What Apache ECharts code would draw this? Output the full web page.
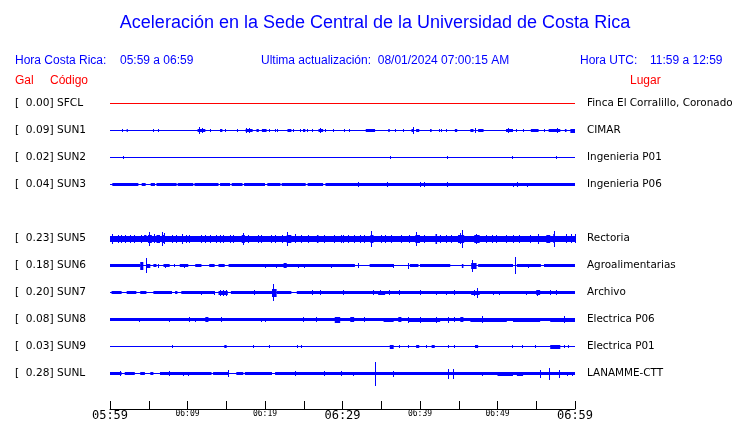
<!DOCTYPE html>
<html>
<head>
<meta charset="utf-8">
<script src="https://cdn.jsdelivr.net/npm/echarts@6/dist/echarts.min.js"></script>
<style>html,body{margin:0;padding:0;background:#fff}#c{width:740px;height:423px}</style>
</head>
<body>
<div id="c"></div>
<script>
// ---------- data ----------
const codes  = ['SFCL','SUN1','SUN2','SUN3','SUN5','SUN6','SUN7','SUN8','SUN9','SUNL'];
const rows   = [0,1,2,3,5,6,7,8,9,10];
const gal    = [0.00,0.09,0.02,0.04,0.23,0.18,0.20,0.08,0.03,0.28];
const places = ['Finca El Corralillo, Coronado','CIMAR','Ingenieria P01','Ingenieria P06','Rectoria',
                'Agroalimentarias','Archivo','Electrica P06','Electrica P01','LANAMME-CTT'];
const tickMinutes = [0,10,20,30,40,50,60];
const tickLabels  = ['05:59','06:09','06:19','06:29','06:39','06:49','06:59'];
const majorTicks  = [0,30,60];

// envelopes: [startMinute, endMinute, halfAmplitude]
const traceSFCL = [[0,60,0]];
const traceSUN1 = [[0,60,0],[1.6,1.6,1],[2.15,2.3,1],[5.6,5.6,1],[6.2,6.2,1],[11.3,12.3,1],[11.5,11.5,3],[11.9,11.9,2],
  [13,13,1],[14.2,14.5,1],[14.9,14.9,1],[16.5,16.5,1],[17.5,18.4,1],[17.6,17.6,2],[18.0,18.0,2],[18.9,19.2,1],
  [19.6,20.2,1],[20.6,20.6,1],[21.3,21.3,1],[21.6,21.6,1],[22.9,23.4,1],[23.7,23.7,1],[24.6,24.6,1],[24.9,25.2,1],
  [25.5,25.5,1],[26.1,26.1,1],[26.9,27.5,1],[27.1,27.1,2],[27.8,27.8,1],[28.9,28.9,1],
  [30.2,30.2,1],[30.9,30.9,1],[33.0,34.2,1],[35.9,36.1,1],[36.8,36.8,1],[37.9,37.9,1],[38.9,39.2,1],[39.2,39.2,3],
  [39.5,39.9,1],[41.3,41.5,1],[42.5,42.5,1],[42.8,42.8,1],[43.4,43.4,1],[44.5,44.8,1],[46.5,46.9,1],[47.1,47.1,2],
  [47.5,48.2,1],[51.1,52.0,1],[51.4,51.4,2],[52.5,52.5,1],[53.4,53.4,1],[54.3,55.3,1],[56,56,1],[56.6,58.1,1],
  [57.7,57.7,2],[58.7,58.9,1],[59.4,60,1.5]];
const traceSUN2 = [[0,60,0],[1.7,1.7,1],[36.2,36.2,1],[43.6,43.6,1],[51.9,51.9,1],[57.6,57.6,1]];
const traceSUN3 = [[0,60,0],[0.3,3.66,1],[4.09,4.6,1],[5.25,5.8,1],[6.0,8.6,1],[8.73,10.75,1],[10.9,14.0,1],
  [14.2,15.5,1],[15.7,17.1,1],[17.3,20.0,1],[20.3,22.0,1],[22.15,25.25,1],[25.5,27.5,1],[27.8,60,1],
  [32.0,32.0,2],[35.8,35.8,2],[40,40,2],[40.6,40.6,2],[43.5,43.5,2],[52.0,52.0,1.5],[52.6,52.6,2],[53.9,53.9,1.5]];
const traceSUN5 = [[0,60,2.5],[0.3,0.3,4.5],[1.1,1.1,3.5],[1.5,1.5,3.5],[2.0,2.0,3.5],[2.6,2.6,3.5],[3.2,3.2,3.5],
  [4.1,4.1,3.5],[4.4,4.7,3],[4.9,5.4,3.5],[5.1,5.1,6.5],[5.8,5.8,4],[6.0,6.45,3.5],[6.7,7.1,3.5],[6.8,6.8,6.5],[7.0,7.0,5],
  [8.0,8.0,3.5],[8.6,8.6,3.5],[9.3,9.3,4.5],[9.9,9.9,3.5],[10.3,10.3,3.5],[11.8,11.8,3.5],[12.3,12.3,3.5],[13.0,13.0,3.5],
  [13.8,13.8,3.5],[14.2,14.2,3.5],[14.6,14.6,3.5],[15.5,15.5,3.5],[15.9,15.9,3.5],[17.0,17.4,3.5],[17.2,17.2,5.5],
  [17.85,17.85,3.5],[19.1,19.1,3.5],[19.6,19.6,3.5],[20.9,20.9,3.5],[21.3,21.3,3.5],
  [22.2,22.2,3.5],[22.8,23.4,3.5],[22.9,22.9,6.5],[23.9,23.9,4],[24.7,24.7,3.5],[25.6,25.6,3.5],[26.7,26.9,3.5],
  [27.7,27.7,3.5],[29.0,29.0,3.5],[29.9,29.9,3.5],
  [30.1,30.1,3.5],[30.8,30.8,3.5],[31.6,31.6,3.5],[32.3,32.3,3.5],[32.9,32.9,3.5],[33.6,34.0,3.5],[33.8,33.8,7.5],
  [35.0,35.0,3.5],[35.5,35.5,3.5],[36.3,36.3,3.5],[37.6,37.6,3.5],
  [38.7,38.7,3.5],[39.4,40.0,3.5],[39.6,39.6,6.5],[40.6,40.6,3.5],[42.0,42.2,4.5],[42.6,42.6,3.5],[43.4,43.4,3.5],[44.1,44.1,3.5],
  [44.9,45.7,3.5],[45.5,45.5,8.5],[45.2,45.2,5],[47.0,47.7,3.5],[47.3,47.3,4.5],[48.6,48.6,3.5],[49.3,49.3,3.5],[49.9,49.9,3.5],
  [51.2,51.2,3.5],[52.0,52.0,3.5],[52.9,52.9,3.5],[54.2,54.2,3.5],[55.3,55.3,4.5],
  [56.3,56.8,3.5],[57.2,57.4,4],[57.3,57.3,7.5],[58.9,58.9,4],[59.5,59.5,4],[60,60,4]];
const traceSUN6 = [[0,60,0],[0,3.9,1],[3.9,4.3,3.5],[4.7,4.7,7],[4.7,5.2,1.5],[5.6,6.0,1],[6.3,6.3,1.5],[6.9,7.7,1],
  [7.2,7.2,1.5],[8.3,8.3,1],[9.0,10.1,1],[9.6,9.6,1.5],[11.0,11.8,1],[12.8,13.5,1],[14.0,14.8,1],[15.3,31.6,1],
  [20.1,20.1,1.5],[21.5,21.5,1.5],[22.4,22.8,2],[24.3,24.3,1.5],[25.1,25.1,1.5],[28.6,28.6,1.5],
  [32.0,32.0,2],[33.5,36.6,1],[36.6,36.6,1.5],[38.5,38.5,2.5],[38.7,39.8,1],[40,43.9,1],[45.4,45.6,1.5],
  [46.6,47.3,2.5],[46.8,46.8,5.5],[47.5,52.0,1],[52.3,52.3,8],[52.5,55.6,1],[54.0,54.0,1.5],[56,60,1]];
const traceSUN7 = [[0,60,0],[0.2,1.5,1],[2.15,3.4,1],[3.9,4.7,1],[5.6,8.0,1],[8.4,8.7,1],[9.2,13.5,1],[11.8,11.8,1.5],
  [13.5,13.5,1.5],[14.0,15.2,1.5],[14.2,14.2,2.5],[14.6,14.6,2.5],[15.0,15.0,2.5],[15.6,20.9,1],[18.6,18.6,2],
  [20.9,21.5,3.5],[21.1,21.1,8],[21.5,23.4,1],[24.1,60,1],[26.1,26.1,2],[27.1,27.1,2],[30.1,30.1,2],
  [34,34,2],[34.6,35.5,1.5],[34.9,34.9,2],[36.1,36.1,2],[37.4,37.4,2],[40,40,2],[42.1,42.1,1.5],[43.4,43.4,1.5],
  [44.5,44.5,2],[46.6,47.7,1.5],[47.0,47.0,2.5],[47.4,47.4,4.5],[49.5,49.5,1.5],[50.3,50.3,1.5],[53.7,53.7,1.5],
  [55,55.5,2],[55.2,55.2,2.5],[56.8,56.8,2],[57.6,57.6,2]];
const traceSUN8 = [[0,60,1],[3.8,3.8,1.5],[7.65,7.65,1.5],[10.3,10.3,2],[11,11,1.5],[12.3,12.7,2],[14.4,14.4,2],
  [19.6,19.6,1.5],[20.1,20.1,1.5],[25.0,25.0,2],[26.6,26.6,2],[29,29.7,2.5],
  [31,31.5,2],[32.9,32.9,2],[35.3,36.6,1.5],[37.2,37.6,2],[38.5,42.6,1.5],[38.5,38.5,2.5],[40,40,2.5],[42.1,42.1,2.5],
  [43.7,43.7,2.5],[44.5,44.5,2],[45.2,45.6,2],[46.5,51.2,1.5],[48,48,3],[52,55.5,1.5],[56.8,60,1.5],[58.7,58.7,3]];
const traceSUN9 = [[0,60,0],[8.1,8.1,1],[14.75,15.05,1],[18.5,18.5,1],[20.6,20.6,1],[24.2,24.2,1],[24.7,24.7,1],
  [36.1,36.6,1.5],[37.4,37.4,1],[38.5,38.5,1],[39.5,39.9,1],[40.8,40.8,1],[41.5,41.9,1],[43.7,43.7,1],[44.5,44.5,1],
  [47.1,47.5,1],[51.9,51.9,1],[53.2,53.2,1],[54.9,54.9,1],[56.8,58.1,1.5],[58.7,58.7,1],[59.1,59.1,1]];
const traceSUNL = [[0,60,0],[0,1.5,1],[1.3,1.3,2],[1.9,3.2,1],[3.9,4.5,1],[5.2,5.6,1],[6.45,13.1,1],[7.7,7.7,2],
  [9.5,9.5,1.5],[10.1,10.1,1.5],[13.3,15.3,1],[15.3,15.3,3],[16.3,17.2,1],[17.4,20.9,1],[21.3,60,1],[23.9,23.9,2],
  [27.7,27.7,2],[29.9,29.9,2],
  [31.4,31.4,1.5],[34.2,34.2,11.5],[36.6,36.6,2.5],[43.7,43.7,4.5],[44.3,44.3,4.5],[48,48,1.5],[50,52,1.5],
  [52.5,53.3,1.5],[55.5,55.5,3.5],[56.7,56.7,5.5],[58,58,3.5],[59,59,1.5],[59.7,59.7,1.5]];
const traces = [traceSFCL,traceSUN1,traceSUN2,traceSUN3,traceSUN5,traceSUN6,traceSUN7,traceSUN8,traceSUN9,traceSUNL];

// ---------- chart ----------
const AMP_PER_ROW = 27;
const BLUE = '#0000ff', RED = '#ff0000';
const YMIN = -1, YMAX = -1 + 332.5 / 27;
const chart = echarts.init(document.getElementById('c'), null, {renderer: 'canvas'});

function rowIndex(v) {
  const r = Math.round(v);
  if (Math.abs(v - r) > 1e-6) return -1;
  return rows.indexOf(r);
}

const series = traces.map((tr, i) => {
  const color = i === 0 ? RED : BLUE;
  return {
    type: 'custom',
    name: codes[i],
    xAxisIndex: 0, yAxisIndex: 0,
    clip: false,
    silent: true,
    encode: {x: [0, 1], y: 2},
    data: tr.map(s => [s[0], s[1], rows[i], s[2]]),
    renderItem: function (params, api) {
      const t0 = api.value(0), t1 = api.value(1), r = api.value(2), amp = api.value(3);
      const p0 = api.coord([t0, r]), p1 = api.coord([t1, r]);
      const half = api.size([0, amp / AMP_PER_ROW])[1];
      const h = Math.max(1, Math.round(2 * half + 1));
      let x = p0[0], w = p1[0] - p0[0];
      if (w < 1) { x = Math.round(p0[0] - 0.5); w = 1; }
      const y = Math.round(p0[1] - h / 2);
      return {type: 'rect', shape: {x: x, y: y, width: w, height: h}, style: {fill: color}};
    }
  };
});

const txt = (text, x, y, size, color, align) => ({
  type: 'text', x: x, y: y, silent: true,
  style: {text: text, fill: color, font: size + 'px "Liberation Sans", Arial, sans-serif',
          textAlign: align || 'left', textVerticalAlign: 'middle'}
});

chart.setOption({
  animation: false,
  backgroundColor: '#fff',
  grid: {left: 110, right: 165, top: 76.5, bottom: 14, containLabel: false},
  xAxis: {
    type: 'value', min: 0, max: 60, interval: 5, position: 'bottom',
    axisLine: {show: true, onZero: false, lineStyle: {color: '#000', width: 1}},
    axisTick: {show: true, inside: true, length: 8, lineStyle: {color: '#000'}},
    splitLine: {show: false},
    axisLabel: {
      show: true, margin: 1, color: '#000', showMinLabel: true, showMaxLabel: true,
      formatter: function (v) {
        const k = tickMinutes.indexOf(Math.round(v));
        if (k < 0 || Math.abs(v - Math.round(v)) > 1e-6) return '';
        return majorTicks.indexOf(tickMinutes[k]) >= 0 ? '{b|' + tickLabels[k] + '}' : '{s|' + tickLabels[k] + '}';
      },
      rich: {
        b: {fontSize: 12, fontFamily: '"DejaVu Sans Mono", monospace', color: '#000'},
        s: {fontSize: 8, fontFamily: '"DejaVu Sans Mono", monospace', color: '#000'}
      }
    }
  },
  yAxis: [{
    type: 'value', min: YMIN, max: YMAX, interval: 1, inverse: true,
    axisLine: {show: false}, axisTick: {show: false}, splitLine: {show: false},
    axisLabel: {
      margin: 95, align: 'left', fontSize: 10.6, fontFamily: '"DejaVu Sans", sans-serif', color: '#000',
      formatter: function (v) {
        const i = rowIndex(v);
        return i < 0 ? '' : '[  ' + gal[i].toFixed(2) + '] ' + codes[i];
      }
    }
  }, {
    type: 'value', min: YMIN, max: YMAX, interval: 1, inverse: true, position: 'right',
    axisLine: {show: false}, axisTick: {show: false}, splitLine: {show: false},
    axisLabel: {
      margin: 12, align: 'left', fontSize: 10.4, fontFamily: '"DejaVu Sans", sans-serif', color: '#000',
      formatter: function (v) {
        const i = rowIndex(v);
        return i < 0 ? '' : places[i];
      }
    }
  }],
  graphic: [
    txt('Aceleración en la Sede Central de la Universidad de Costa Rica', 375, 23, 18, BLUE, 'center'),
    txt('Hora Costa Rica:', 15, 61, 12, BLUE),
    txt('05:59 a 06:59', 120, 61, 12, BLUE),
    txt('Ultima actualización:  08/01/2024 07:00:15 AM', 261, 61, 12, BLUE),
    txt('Hora UTC:', 580, 61, 12, BLUE),
    txt('11:59 a 12:59', 650, 61, 12, BLUE),
    txt('Gal', 15, 81, 12, RED),
    txt('Código', 50, 81, 12, RED),
    txt('Lugar', 630, 81, 12, RED)
  ],
  series: series
});
</script>
</body>
</html>
